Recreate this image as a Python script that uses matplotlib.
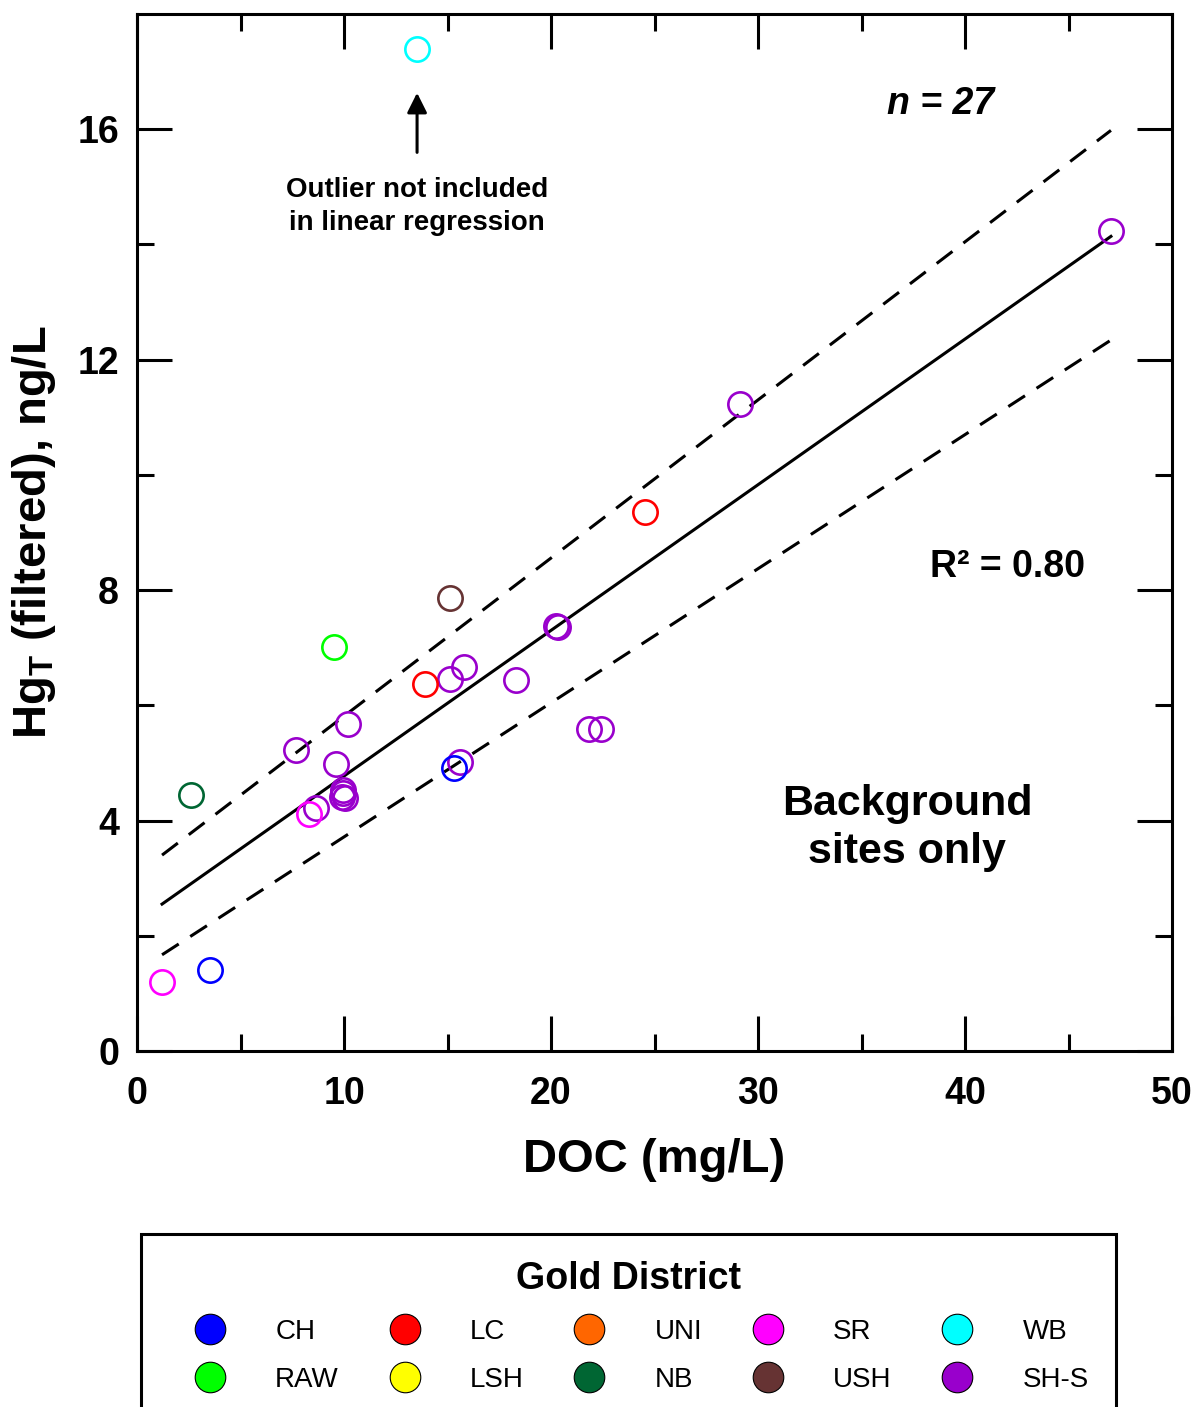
import numpy as np
import matplotlib
matplotlib.use('Agg')
import matplotlib.pyplot as plt
from matplotlib.lines import Line2D

plt.rcParams['font.family'] = ['Liberation Sans', 'DejaVu Sans']
plt.rcParams['mathtext.fontset'] = 'custom'
plt.rcParams['mathtext.rm'] = 'Liberation Sans'
plt.rcParams['mathtext.bf'] = 'Liberation Sans:bold'

# Gold district colours
districts = ['CH', 'RAW', 'LC', 'LSH', 'UNI', 'NB', 'SR', 'USH', 'WB', 'SH-S']
district_colors = {
    'CH': '#0000FF', 'RAW': '#00FF00', 'LC': '#FF0000', 'LSH': '#FFFF00',
    'UNI': '#FF6600', 'NB': '#006633', 'SR': '#FF00FF', 'USH': '#663333',
    'WB': '#00FFFF', 'SH-S': '#9900CC',
}

# DOC (mg/L) and filtered HgT (ng/L) at background sites
doc_shs = [47.05, 29.13, 20.25, 20.35, 15.80, 15.12, 18.31, 10.19, 7.68, 9.61,
           21.84, 22.42, 15.60, 9.94, 10.05, 9.89, 9.97, 8.65]
hg_shs = [14.23, 11.23, 7.38, 7.36, 6.66, 6.45, 6.44, 5.67, 5.22, 4.98,
          5.59, 5.59, 5.01, 4.47, 4.40, 4.41, 4.53, 4.22]
doc_lc = [24.54, 13.91]
hg_lc = [9.35, 6.37]
doc_ush = [15.12]
hg_ush = [7.86]
doc_raw = [9.52]
hg_raw = [7.01]
doc_ch = [15.31, 3.53]
hg_ch = [4.91, 1.41]
doc_nb = [2.61]
hg_nb = [4.44]
doc_sr = [1.21, 8.32]
hg_sr = [1.20, 4.11]
# outlier, left out of the regression
doc_wb = [13.53]
hg_wb = [17.40]

groups = [
    ('SH-S', doc_shs, hg_shs), ('LC', doc_lc, hg_lc), ('USH', doc_ush, hg_ush),
    ('RAW', doc_raw, hg_raw), ('CH', doc_ch, hg_ch), ('NB', doc_nb, hg_nb),
    ('SR', doc_sr, hg_sr), ('WB', doc_wb, hg_wb),
]

# regression line and its bounds, at the ends of the DOC range
fit_y = [2.55, 14.14]
upper_y = [3.40, 15.98]
lower_y = [1.67, 12.34]
n_points = 27
r_squared = 0.80

fig = plt.figure(figsize=(11.95, 14.07), dpi=100)
ax = fig.add_axes([137/1195, 1 - 1051/1407, (1172-137)/1195, (1051-14)/1407])

for name, xs, ys in groups:
    ax.plot(xs, ys, 'o', ms=17.5, mfc='none', mec=district_colors[name], mew=1.9, zorder=3)

all_x = np.concatenate([g[1] for g in groups if g[0] != 'WB'])
fit_x = [all_x.min(), all_x.max()]
dash = (0, (6.5, 4.5))
ax.plot(fit_x, fit_y, color='black', lw=2.2, zorder=2)
ax.plot(fit_x, upper_y, color='black', lw=2.2, ls=dash, zorder=2)
ax.plot(fit_x, lower_y, color='black', lw=2.2, ls=dash, zorder=2)

ax.set_xlim(0, 50)
ax.set_ylim(0, 18)
ax.set_xticks(np.arange(0, 51, 10))
ax.set_xticks(np.arange(5, 50, 10), minor=True)
ax.set_yticks(np.arange(0, 17, 4))
ax.set_yticks(np.arange(2, 18, 4), minor=True)
ax.tick_params(which='both', direction='in', top=True, right=True, width=2.2)
ax.tick_params(which='major', length=25)
ax.tick_params(which='minor', length=12.5)
ax.tick_params(axis='x', pad=18, labelsize=27)
ax.tick_params(axis='y', pad=13, labelsize=27)
for lab in ax.get_xticklabels() + ax.get_yticklabels():
    lab.set_fontweight('bold')
for sp in ax.spines.values():
    sp.set_linewidth(2.2)

ax.set_xlabel('DOC (mg/L)', fontsize=34, fontweight='bold', labelpad=19)
ax.set_ylabel(r'Hg$_\mathbf{T}$ (filtered), ng/L', fontsize=34, fontweight='bold', labelpad=14)

ax.text(38.8, 16.43, f'n = {n_points}', fontsize=27, fontweight='bold', style='italic',
        ha='center', va='center')
ax.text(42.03, 8.40, f'R\u00b2 = {r_squared:.2f}', fontsize=27, fontweight='bold',
        ha='center', va='center')
ax.text(37.2, 3.87, 'Background\nsites only', fontsize=31, fontweight='bold',
        ha='center', va='center', linespacing=1.25)
ax.text(doc_wb[0], 14.66, 'Outlier not included\nin linear regression', fontsize=20,
        fontweight='bold', ha='center', va='center', linespacing=1.35)
ax.annotate('', xy=(doc_wb[0], 16.68), xytext=(doc_wb[0], 15.55),
            arrowprops=dict(arrowstyle='-|>', color='black', lw=2.2, mutation_scale=30))

# district legend below the plot
handles = [Line2D([], [], ls='none', marker='o', ms=22, mfc=district_colors[d],
                  mec='black', mew=0.8, label=d) for d in districts]
leg_top = 1 - 1234/1407
leg_h = 0.2
fig.legend(handles=handles, ncol=5, loc='upper left',
           bbox_to_anchor=(141/1195, leg_top - leg_h, (1116-141)/1195, leg_h),
           mode='expand', borderaxespad=0, fontsize=20, title='Gold District',
           title_fontproperties={'size': 27, 'weight': 'bold'},
           handlelength=3, handletextpad=0.85, borderpad=0.98, labelspacing=0.78,
           frameon=True, fancybox=False, edgecolor='black', framealpha=1)
fig.legends[0].get_frame().set_linewidth(2.2)

fig.savefig('out.png', dpi=100)
